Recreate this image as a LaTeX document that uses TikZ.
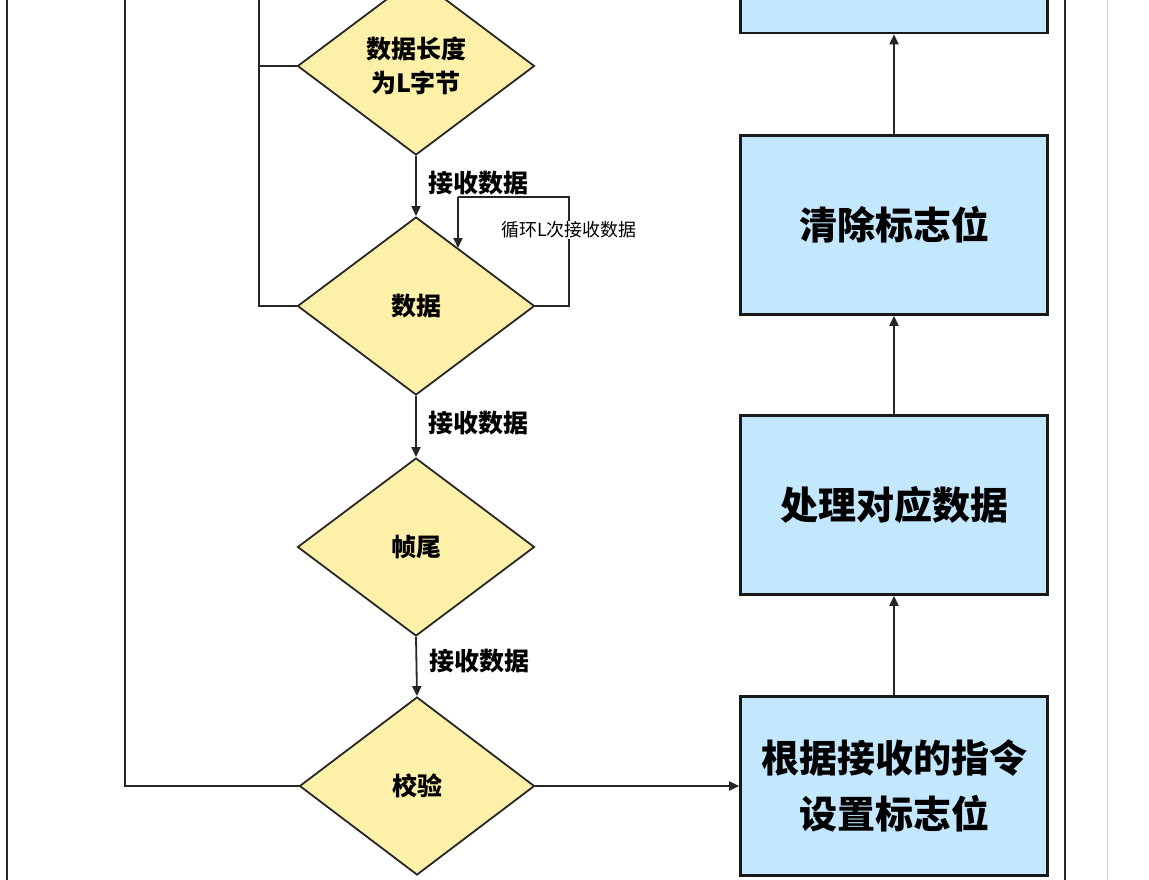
\documentclass[tikz,border=0pt]{standalone}
\usepackage{fontspec}
\setmainfont{Noto Sans CJK SC}
\usetikzlibrary{shapes.geometric,arrows.meta}
\begin{document}
\begin{tikzpicture}[x=1pt,y=-1pt,
  dia/.style={diamond,draw=black!85,line width=1.8pt,fill=yellow!50!orange!10!yellow!45,fill={rgb,255:red,253;green,240;blue,168},inner sep=0pt,minimum width=237pt,minimum height=178pt,font=\bfseries\fontsize{25}{34}\selectfont,align=center},
  box/.style={rectangle,draw=black!90,line width=2.6pt,fill={rgb,255:red,195;green,231;blue,253},minimum width=307pt,minimum height=179pt,inner sep=0pt,font=\bfseries\fontsize{38}{56}\selectfont,align=center},
  ln/.style={line width=1.8pt,draw=black!85},
  arr/.style={ln,-{Triangle[length=10pt,width=9pt]}},
  lab/.style={font=\bfseries\fontsize{25}{30}\selectfont,anchor=west,inner sep=0pt}]
\useasboundingbox (0,0) rectangle (1149,879);
% frame lines
\coordinate (L1t) at (7,-5); \coordinate (L1b) at (7,884);
\draw[ln] (L1t) -- (L1b);
\coordinate (R1t) at (1065,-5); \coordinate (R1b) at (1065,884);
\draw[ln] (R1t) -- (R1b);
\coordinate (G1t) at (1107,-5); \coordinate (G1b) at (1107,884);
\draw[line width=1pt,draw=black!20] (G1t) -- (G1b);
% diamonds
\node[dia] (d1) at (416,66) {数据长度\\为L字节};
\node[dia] (d2) at (416,306) {数据};
\node[dia] (d3) at (416,547) {帧尾};
\node[dia,minimum width=235pt] (d4) at (417,786) {校验};
% boxes
\node[box,minimum height=100pt] (b0) at (894,-17) {};
\node[box] (b1) at (894,225) {清除标志位};
\node[box] (b2) at (894,505) {处理对应数据};
\node[box] (b3) at (894,786) {根据接收的指令\\设置标志位};
% left feedback lines
\coordinate (a1) at (125,-5); \coordinate (a2) at (125,786);
\draw[ln] (a1) -- (a2) -- (d4.west);
\coordinate (c1) at (259,-5); \coordinate (c2) at (259,66); \coordinate (c3) at (259,306);
\draw[ln] (c1) -- (c3) -- (d2.west);
\draw[ln] (c2) -- (d1.west);
% down arrows
\draw[arr] (d1.south) -- (d2.north) node[lab,pos=0.45,xshift=12pt] {接收数据};
\draw[arr] (d2.south) -- (d3.north) node[lab,pos=0.45,xshift=12pt] {接收数据};
\draw[arr] (d3.south) -- (d4.north) node[lab,pos=0.4,xshift=12pt] {接收数据};
% loop
\coordinate (p1) at (569,306); \coordinate (p2) at (569,197); \coordinate (p3) at (458,197); \coordinate (p4) at (458,248);
\draw[ln] (d2.east) -- (p1) -- (p2) -- (p3);
\draw[arr] (p3) -- (p4);
\node[font=\fontsize{18}{20}\selectfont,fill=white,inner sep=1pt] (lp) at (569,230) {循环L次接收数据};
% right
\draw[arr] (d4.east) -- (b3.west);
\draw[arr] (b3.north) -- (b2.south);
\draw[arr] (b2.north) -- (b1.south);
\draw[arr] (b1.north) -- (b0.south);
\end{tikzpicture}
\end{document}
